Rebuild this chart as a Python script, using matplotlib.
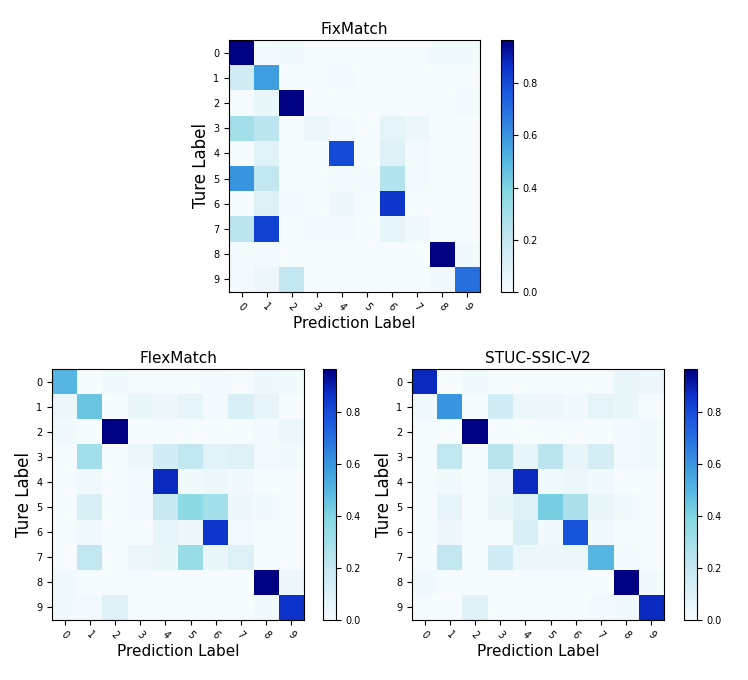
import numpy as np
import matplotlib.pyplot as plt
from matplotlib.colors import LinearSegmentedColormap

labels = [str(i) for i in range(10)]

fixmatch = np.array([
    [0.96, 0.01, 0.02, 0.005, 0.005, 0.005, 0.005, 0.005, 0.02, 0.02],
    [0.15, 0.58, 0.00, 0.00, 0.01, 0.00, 0.00, 0.00, 0.00, 0.00],
    [0.00, 0.05, 0.96, 0.00, 0.00, 0.00, 0.00, 0.00, 0.00, 0.01],
    [0.30, 0.22, 0.00, 0.04, 0.01, 0.00, 0.07, 0.04, 0.00, 0.00],
    [0.00, 0.08, 0.00, 0.00, 0.80, 0.00, 0.10, 0.01, 0.00, 0.00],
    [0.60, 0.20, 0.00, 0.00, 0.01, 0.01, 0.25, 0.01, 0.00, 0.00],
    [0.00, 0.10, 0.01, 0.00, 0.03, 0.00, 0.85, 0.00, 0.00, 0.00],
    [0.22, 0.82, 0.00, 0.01, 0.01, 0.00, 0.06, 0.02, 0.00, 0.00],
    [0.01, 0.01, 0.00, 0.00, 0.00, 0.00, 0.00, 0.00, 0.97, 0.02],
    [0.01, 0.04, 0.20, 0.00, 0.00, 0.00, 0.00, 0.00, 0.02, 0.70],
])

flexmatch = np.array([
    [0.50, 0.00, 0.02, 0.005, 0.005, 0.005, 0.01, 0.005, 0.03, 0.02],
    [0.04, 0.45, 0.00, 0.05, 0.03, 0.06, 0.01, 0.12, 0.06, 0.00],
    [0.02, 0.00, 0.96, 0.00, 0.00, 0.00, 0.00, 0.00, 0.01, 0.04],
    [0.00, 0.30, 0.00, 0.04, 0.14, 0.20, 0.08, 0.10, 0.01, 0.02],
    [0.00, 0.02, 0.00, 0.01, 0.88, 0.02, 0.04, 0.02, 0.00, 0.00],
    [0.00, 0.12, 0.00, 0.01, 0.18, 0.36, 0.30, 0.03, 0.02, 0.00],
    [0.00, 0.02, 0.00, 0.00, 0.06, 0.03, 0.85, 0.01, 0.00, 0.00],
    [0.00, 0.20, 0.00, 0.04, 0.05, 0.33, 0.05, 0.10, 0.00, 0.00],
    [0.02, 0.00, 0.00, 0.00, 0.00, 0.00, 0.00, 0.00, 0.96, 0.03],
    [0.02, 0.01, 0.10, 0.00, 0.00, 0.00, 0.00, 0.00, 0.02, 0.86],
])

stuc = np.array([
    [0.88, 0.00, 0.02, 0.00, 0.00, 0.00, 0.00, 0.00, 0.05, 0.03],
    [0.02, 0.60, 0.00, 0.14, 0.04, 0.03, 0.02, 0.07, 0.05, 0.00],
    [0.00, 0.00, 0.96, 0.00, 0.00, 0.00, 0.00, 0.00, 0.01, 0.02],
    [0.00, 0.20, 0.00, 0.23, 0.06, 0.22, 0.06, 0.13, 0.01, 0.02],
    [0.00, 0.02, 0.00, 0.04, 0.88, 0.02, 0.04, 0.02, 0.00, 0.00],
    [0.00, 0.06, 0.00, 0.05, 0.10, 0.42, 0.28, 0.05, 0.02, 0.00],
    [0.00, 0.03, 0.00, 0.00, 0.12, 0.02, 0.78, 0.02, 0.00, 0.00],
    [0.00, 0.20, 0.00, 0.14, 0.04, 0.04, 0.04, 0.50, 0.01, 0.00],
    [0.02, 0.00, 0.00, 0.00, 0.00, 0.00, 0.00, 0.00, 0.96, 0.02],
    [0.00, 0.00, 0.09, 0.00, 0.00, 0.00, 0.00, 0.01, 0.02, 0.88],
])

# colormap (pale -> cyan -> blue -> navy)
cmap = LinearSegmentedColormap.from_list('cm', [
    (0.0, '#f5fbfe'), (0.2, '#c6e8f2'), (0.4, '#86d8e2'), (0.5, '#5cbce2'),
    (0.6, '#3e9ee0'), (0.7, '#2a78e0'), (0.8, '#1a56de'), (0.9, '#0c30c8'),
    (1.0, '#000080')])

fig = plt.figure(figsize=(7.48, 6.8), dpi=100)
W, H = 748, 680

def px(x0, y0, x1, y1):
    return [x0 / W, 1 - y1 / H, (x1 - x0) / W, (y1 - y0) / H]

panels = [
    ('FixMatch', fixmatch, px(229, 40, 480, 292), px(501, 40, 513, 292)),
    ('FlexMatch', flexmatch, px(52, 369, 304, 620), px(323, 369, 336, 620)),
    ('STUC-SSIC-V2', stuc, px(412, 369, 664, 620), px(684, 369, 697, 620)),
]

for title, cm, apos, cpos in panels:
    ax = fig.add_axes(apos)
    im = ax.imshow(cm, cmap=cmap, vmin=0, vmax=0.965, aspect='auto')
    ax.set_title(title, fontsize=11, pad=4)
    ax.set_xticks(range(10))
    ax.set_yticks(range(10))
    ax.set_xticklabels(labels, rotation=-45, fontsize=7)
    ax.set_yticklabels(labels, fontsize=7)
    ax.set_xlabel('Prediction Label', fontsize=11, labelpad=2)
    ax.set_ylabel('Ture Label', fontsize=12, labelpad=2)
    cax = fig.add_axes(cpos)
    cb = fig.colorbar(im, cax=cax, ticks=[0, 0.2, 0.4, 0.6, 0.8])
    cb.ax.tick_params(labelsize=7)

fig.savefig('out.png', dpi=100)
